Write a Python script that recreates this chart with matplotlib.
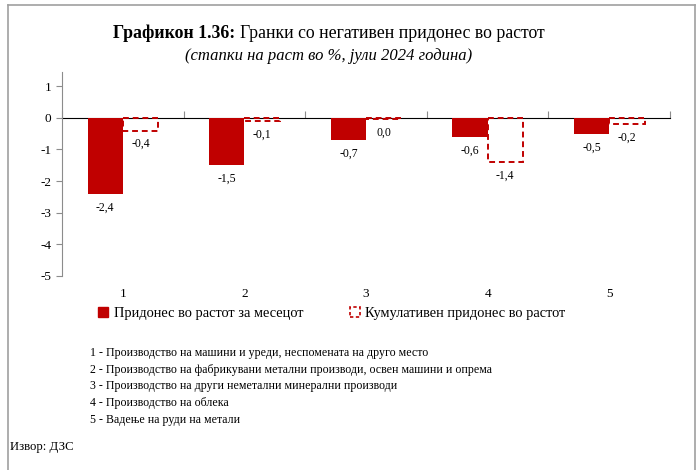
import numpy as np
import matplotlib
matplotlib.use('Agg')
import matplotlib.pyplot as plt
from matplotlib.patches import Rectangle
from matplotlib.lines import Line2D

plt.rcParams['font.family'] = ['Liberation Serif', 'DejaVu Serif']

# data
categories = ['1', '2', '3', '4', '5']
monthly = [-2.4, -1.5, -0.7, -0.6, -0.5]
cumulative = [-0.4, -0.1, -0.04, -1.4, -0.2]
monthly_name = 'Придонес во растот за месецот'
cumulative_name = 'Кумулативен придонес во растот'
notes = [
    '1 - Производство на машини и уреди, неспомената на друго место',
    '2 - Производство на фабрикувани метални производи, освен машини и опрема',
    '3 - Производство на други неметални минерални производи',
    '4 - Производство на облека',
    '5 - Вадење на руди на метали',
]
source = 'Извор: ДЗС'

RED = '#c00000'
GREY = '#8c8c8c'


def fmt(v):
    return f'{round(v, 1) + 0.0:.1f}'.replace('.', ',')


fig = plt.figure(figsize=(7, 4.7), dpi=100)
ax = fig.add_axes([0.0886, 0.4128, 0.8686, 0.434])

x = np.arange(len(categories))
w = 0.29
ax.bar(x - w / 2, monthly, w, color=RED, zorder=3)
ax.bar(x + w / 2, cumulative, w, facecolor='none', edgecolor=RED,
       linewidth=1.4, linestyle=(0, (3, 2)), zorder=3)

for xi, v in zip(x, monthly):
    ax.text(xi - w / 2, v - 0.24, fmt(v), ha='center', va='top', fontsize=8.5)
for xi, v in zip(x, cumulative):
    ax.text(xi + w / 2, v - 0.24, fmt(v), ha='center', va='top', fontsize=8.5)

ymin, ymax = -5, 1.45
ax.set_ylim(ymin, ymax)
ax.set_xlim(-0.5, len(categories) - 0.5)
ax.set_yticks(range(-5, 2))
ax.set_yticklabels([str(t) for t in range(-5, 2)], fontsize=9.5)
ax.set_xticks(x)
ax.set_xticklabels(categories, fontsize=9.5)
ax.tick_params(axis='x', length=0, pad=9)
ax.tick_params(axis='y', length=4, color=GREY, width=0.8)

for s in ['top', 'right', 'bottom']:
    ax.spines[s].set_visible(False)
ax.spines['left'].set_color(GREY)
ax.spines['left'].set_linewidth(0.8)

# zero line with boundary ticks
zero_frac = (0 - ymin) / (ymax - ymin)
sec = ax.secondary_xaxis(zero_frac)
sec.set_xticks(np.arange(-0.5, len(categories), 1.0))
sec.set_xticklabels([])
sec.tick_params(length=5, color=GREY, width=0.8, direction='out')
sec.spines['bottom'].set_color(GREY)
sec.spines['bottom'].set_linewidth(0.8)

handles = [Rectangle((0, 0), 1, 1, color=RED),
           Rectangle((0, 0), 1, 1, facecolor='none', edgecolor=RED,
                     linewidth=1.2, linestyle=(0, (2, 1.5)))]
fig.legend(handles, [monthly_name, cumulative_name], loc='center',
           bbox_to_anchor=(0.474, 0.333), ncol=2, frameon=False,
           fontsize=10.4, handlelength=0.7, handleheight=0.7,
           handletextpad=0.4, columnspacing=3.2)

fig.text(0.343, 0.929, 'Графикон 1.36: ', fontsize=12.8, fontweight='bold',
         ha='right', va='center')
fig.text(0.343, 0.929, 'Гранки со негативен придонес во растот', fontsize=12.8,
         ha='left', va='center')
fig.text(0.469, 0.881, '(стапки на раст во %, јули 2024 година)', fontsize=12,
         style='italic', ha='center', va='center')

for i, line in enumerate(notes):
    fig.text(0.128, 1 - (353 + i * 16.7) / 470, line, fontsize=8.6,
             va='center', ha='left')
fig.text(0.014, 1 - 447 / 470, source, fontsize=9.2, va='center', ha='left')

# frame around the figure
fr = dict(color='#a0a0a0', linewidth=1.2, transform=fig.transFigure)
fig.add_artist(Line2D([8 / 700, 8 / 700], [0, 1 - 5 / 470], **fr))
fig.add_artist(Line2D([8 / 700, 695 / 700], [1 - 5 / 470, 1 - 5 / 470], **fr))
fig.add_artist(Line2D([695 / 700, 695 / 700], [0, 1 - 5 / 470], **fr))

fig.savefig('out.png', dpi=100)
